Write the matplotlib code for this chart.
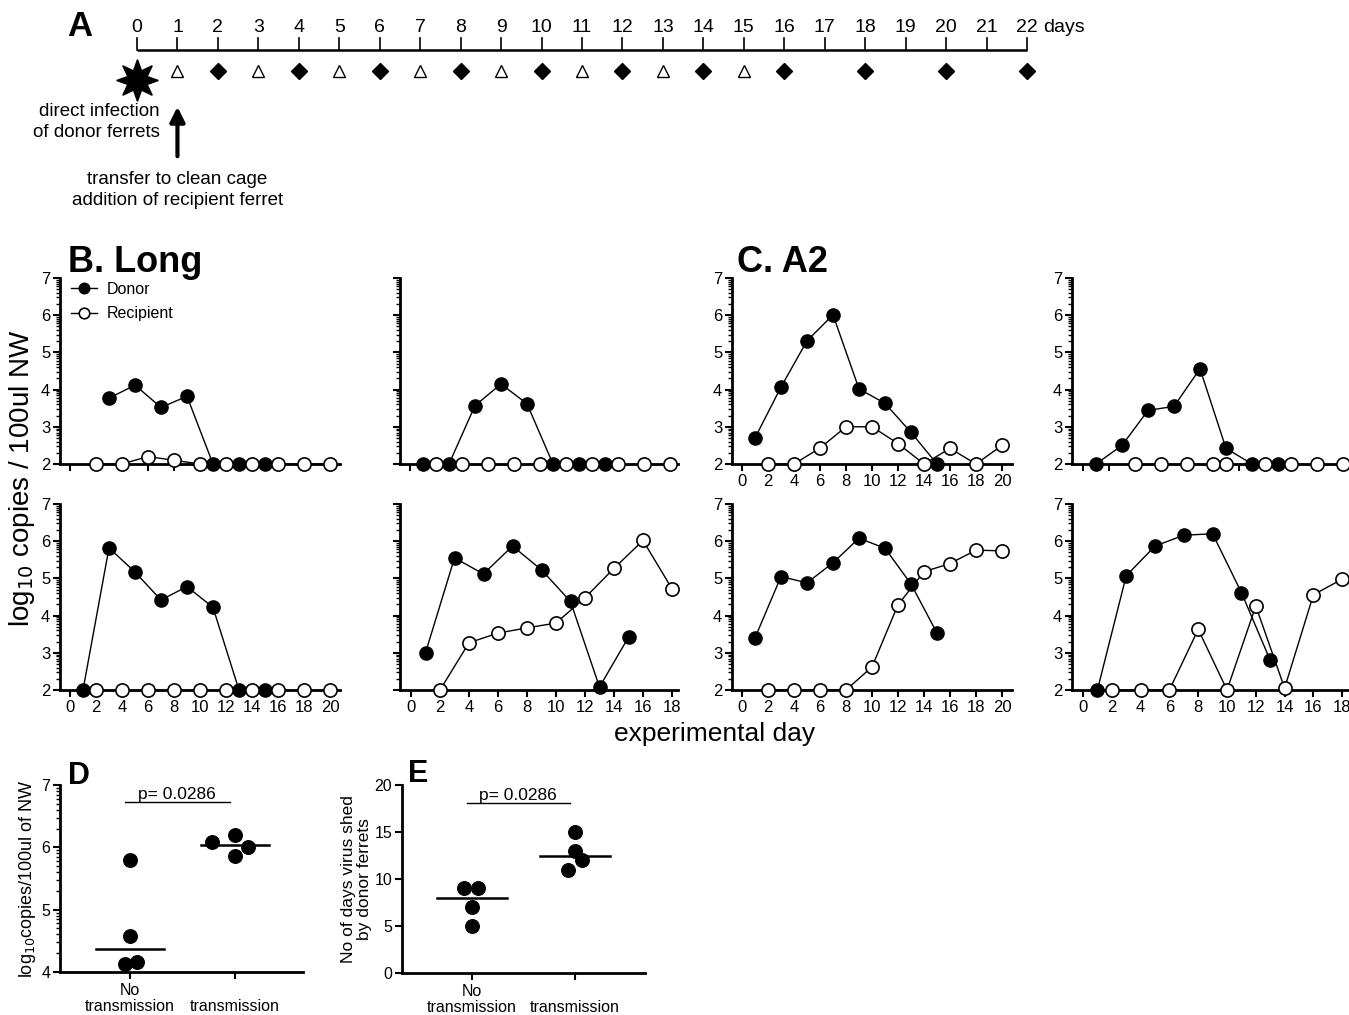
import numpy as np
import matplotlib
matplotlib.use("Agg")
import matplotlib.pyplot as plt

plt.rcParams['font.family'] = ['Liberation Sans', 'DejaVu Sans']
NARROW = ['Liberation Sans Narrow', 'Liberation Sans', 'DejaVu Sans']

# ---- data ----
timeline_days = list(range(0, 23))
recipient_sample_days = [1, 3, 5, 7, 9, 11, 13, 15]
donor_sample_days = [2, 4, 6, 8, 10, 12, 14, 16, 18, 20, 22]

# B. Long
b1_donor_days = [3, 5, 7, 9, 11, 13, 15]
b1_donor = [3.77, 4.12, 3.52, 3.82, 2, 2, 2]
b1_recip_days = [2, 4, 6, 8, 10, 12, 14, 16, 18, 20]
b1_recip = [2, 2, 2.2, 2.1, 2, 2, 2, 2, 2, 2]

b2_donor_days = [1, 3, 5, 7, 9, 11, 13, 15]
b2_donor = [2, 2, 3.57, 4.15, 3.62, 2, 2, 2]
b2_recip_days = [2, 4, 6, 8, 10, 12, 14, 16, 18, 20]
b2_recip = [2, 2, 2, 2, 2, 2, 2, 2, 2, 2]

b3_donor_days = [1, 3, 5, 7, 9, 11, 13, 15]
b3_donor = [2, 5.82, 5.17, 4.42, 4.78, 4.22, 2, 2]
b3_recip_days = [2, 4, 6, 8, 10, 12, 14, 16, 18, 20]
b3_recip = [2, 2, 2, 2, 2, 2, 2, 2, 2, 2]

b4_donor_days = [1, 3, 5, 7, 9, 11, 13, 15]
b4_donor = [3.0, 5.55, 5.12, 5.87, 5.23, 4.38, 2.08, 3.42]
b4_recip_days = [2, 4, 6, 8, 10, 12, 14, 16, 18]
b4_recip = [2, 3.27, 3.53, 3.67, 3.8, 4.48, 5.27, 6.02, 4.72]

# C. A2
c1_donor_days = [1, 3, 5, 7, 9, 11, 13, 15]
c1_donor = [2.7, 4.07, 5.31, 6.01, 4.02, 3.63, 2.85, 2.0]
c1_recip_days = [2, 4, 6, 8, 10, 12, 14, 16, 18, 20]
c1_recip = [2, 2, 2.43, 3.0, 3.0, 2.55, 2, 2.42, 2, 2.5]

c2_donor_days = [1, 3, 5, 7, 9, 11, 13, 15]
c2_donor = [2, 2.5, 3.44, 3.55, 4.56, 2.42, 2, 2]
c2_recip_days = [4, 6, 8, 10, 11, 14, 16, 18, 20]
c2_recip = [2, 2, 2, 2, 2, 2, 2, 2, 2]

c3_donor_days = [1, 3, 5, 7, 9, 11, 13, 15]
c3_donor = [3.4, 5.05, 4.88, 5.42, 6.08, 5.81, 4.85, 3.53]
c3_recip_days = [2, 4, 6, 8, 10, 12, 14, 16, 18, 20]
c3_recip = [2, 2, 2, 2, 2.62, 4.29, 5.18, 5.4, 5.76, 5.74]

c4_donor_days = [1, 3, 5, 7, 9, 11, 13]
c4_donor = [2, 5.07, 5.87, 6.16, 6.2, 4.62, 2.8]
c4_recip_days = [2, 4, 6, 8, 10, 12, 14, 16, 18]
c4_recip = [2, 2, 2, 3.63, 2, 4.26, 2.05, 4.56, 4.98]

# D / E
groups = ['No\ntransmission', 'transmission']
d_no = [5.8, 4.57, 4.13, 4.16]
d_no_jit = [0, 0, -0.05, 0.07]
d_yes = [6.09, 6.2, 6.0, 5.86]
d_yes_jit = [-0.22, 0, 0.12, 0]
e_no = [9, 9, 7, 5]
e_no_jit = [-0.08, 0.06, 0, 0]
e_yes = [15, 13, 11, 12]
e_yes_jit = [0, 0, -0.07, 0.07]
p_value = 'p= 0.0286'

W, H = 1349, 1015
fig = plt.figure(figsize=(W / 100, H / 100), dpi=100)


def fx(px):
    return px / W


def fy(py):
    return 1 - py / H


def add_px_axes(left, top, right, bottom):
    return fig.add_axes([left / W, 1 - bottom / H, (right - left) / W, (bottom - top) / H])


# ---- A: timeline ----
ax_t = add_px_axes(0, 0, W, 215)
pxday = (1027 - 137) / 22
ax_t.set_xlim(-137 / pxday, (W - 137) / pxday)
ax_t.set_ylim(215, 0)
ax_t.axis('off')
ax_t.plot([timeline_days[0], timeline_days[-1]], [50, 50], color='black', lw=1.8, solid_capstyle='butt')
for d in timeline_days:
    ax_t.plot([d, d], [38, 50], color='black', lw=1.2)
    ax_t.text(d, 28, str(d), ha='center', va='center', fontsize=14, family=NARROW)
ax_t.text(22 + 16 / pxday, 28, 'days', ha='left', va='center', fontsize=14, family=NARROW)
ax_t.plot(recipient_sample_days, [71] * len(recipient_sample_days), ls='none', marker='^',
          ms=8, mfc='white', mec='black', mew=1.0)
ax_t.plot(donor_sample_days, [71] * len(donor_sample_days), ls='none', marker='D',
          ms=8, mfc='black', mec='black')
ax_t.plot([0], [80], marker=(8, 1, 0), ms=30, color='black')
ax_t.annotate('', xy=(1, 104), xytext=(1, 159),
              arrowprops=dict(arrowstyle='-|>', lw=3, color='black', mutation_scale=22))
ax_t.text((160 - 137) / pxday, 122, 'direct infection\nof donor ferrets', ha='right', va='center',
          multialignment='right', fontsize=13.5, family=NARROW, linespacing=1.25)
ax_t.text(1, 190, 'transfer to clean cage\naddition of recipient ferret', ha='center', va='center',
          fontsize=13.5, family=NARROW, linespacing=1.25)
fig.text(fx(80), fy(27), 'A', ha='center', va='center', fontsize=25, fontweight='bold')

# ---- B / C panels ----
minor_y = [n + np.log10(k) for n in range(2, 7) for k in range(2, 10)]


def panel(left, top, right, bottom, x0px, pxd, xmax, xlabels, ylabels,
          ddays, dvals, rdays, rvals):
    ax = add_px_axes(left, top, right, bottom)
    ax.set_xlim((left - x0px) / pxd, (right - x0px) / pxd)
    ax.set_ylim(2, 7)
    for s in ['top', 'right']:
        ax.spines[s].set_visible(False)
    for s in ['left', 'bottom']:
        ax.spines[s].set_linewidth(2)
    ax.set_xticks(range(0, xmax + 1, 2))
    ax.set_yticks(range(2, 8))
    ax.set_yticks(minor_y, minor=True)
    ax.tick_params(axis='both', which='major', length=5, width=1.5, labelsize=12, pad=2)
    ax.tick_params(axis='y', which='minor', length=3, width=1)
    if not xlabels:
        ax.set_xticklabels([])
    if not ylabels:
        ax.set_yticklabels([])
    ld, = ax.plot(ddays, dvals, color='black', lw=1, marker='o', ms=9.5,
                  mfc='black', mec='black', clip_on=False, zorder=3)
    lr, = ax.plot(rdays, rvals, color='black', lw=1, marker='o', ms=9.5,
                  mfc='white', mec='black', mew=1.2, clip_on=False, zorder=4)
    return ax, ld, lr


ax, ld, lr = panel(60, 278, 340, 464, 70, 13, 20, False, True,
                   b1_donor_days, b1_donor, b1_recip_days, b1_recip)
ax.legend([ld, lr], ['Donor', 'Recipient'], loc='upper left', bbox_to_anchor=(0.0, 1.04),
          frameon=False, fontsize=11.5, handlelength=1.6, handletextpad=0.6,
          labelspacing=0.6, markerscale=0.8, borderaxespad=0.3)
panel(400, 278, 678, 464, 410, 13, 20, False, False,
      b2_donor_days, b2_donor, b2_recip_days, b2_recip)
panel(60, 504, 340, 690, 70, 13, 20, True, True,
      b3_donor_days, b3_donor, b3_recip_days, b3_recip)
panel(400, 504, 678, 690, 411, 14.5, 18, True, False,
      b4_donor_days, b4_donor, b4_recip_days, b4_recip)
panel(732, 278, 1012, 464, 742, 13, 20, True, True,
      c1_donor_days, c1_donor, c1_recip_days, c1_recip)
panel(1072, 278, W, 464, 1083, 13, 20, False, True,
      c2_donor_days, c2_donor, c2_recip_days, c2_recip)
panel(732, 504, 1012, 690, 742, 13, 20, True, True,
      c3_donor_days, c3_donor, c3_recip_days, c3_recip)
panel(1072, 504, W, 690, 1083, 14.4, 18, True, True,
      c4_donor_days, c4_donor, c4_recip_days, c4_recip)

fig.text(fx(68), fy(262), 'B. Long', ha='left', va='center', fontsize=26, fontweight='bold')
fig.text(fx(737), fy(262), 'C. A2', ha='left', va='center', fontsize=26, fontweight='bold')
fig.text(fx(22), fy(478), r'log$_{10}$ copies / 100ul NW', rotation=90, ha='center', va='center', fontsize=20)
fig.text(fx(715), fy(734), 'experimental day', ha='center', va='center', fontsize=19)


# ---- D / E ----
def dot_panel(left, top, right, bottom, c0, c1, ylim, no_vals, no_jit, yes_vals, yes_jit,
              half, bar_y):
    ax = add_px_axes(left, top, right, bottom)
    pxu = c1 - c0
    ax.set_xlim((left - c0) / pxu, (right - c0) / pxu)
    ax.set_ylim(*ylim)
    for s in ['top', 'right']:
        ax.spines[s].set_visible(False)
    for s in ['left', 'bottom']:
        ax.spines[s].set_linewidth(2)
    ax.set_xticks([0, 1])
    ax.set_xticklabels([])
    for i, name in enumerate(groups):
        ax.annotate(name, xy=(i, 0), xycoords=('data', 'axes fraction'), xytext=(0, -42),
                    textcoords='offset pixels', ha='center', va='bottom', fontsize=11.5,
                    linespacing=1.05)
    ax.tick_params(axis='both', which='major', length=5, width=1.5, labelsize=11.5, pad=2)
    ax.scatter(np.array(no_jit), no_vals, s=95, color='black', zorder=3, clip_on=False)
    ax.scatter(1 + np.array(yes_jit), yes_vals, s=95, color='black', zorder=3, clip_on=False)
    ax.plot([-half, half], [np.median(no_vals)] * 2, color='black', lw=1.8)
    ax.plot([1 - half, 1 + half], [np.median(yes_vals)] * 2, color='black', lw=1.8)
    ax.plot([-0.05, 0.95], [bar_y, bar_y], color='black', lw=1)
    ax.text(0.45, bar_y, p_value, ha='center', va='bottom', fontsize=12.5)
    return ax


axd = dot_panel(60, 785, 303, 972, 130, 235, (4, 7), d_no, d_no_jit, d_yes, d_yes_jit, 0.32, 6.73)
axd.set_yticks([4, 5, 6, 7])
axd.set_yticks([n + np.log10(k) for n in range(4, 7) for k in range(2, 10)], minor=True)
axd.tick_params(axis='y', which='minor', length=3, width=1)
axd.set_ylabel(r'log$_{10}$copies/100ul of NW', fontsize=13, labelpad=2)

axe = dot_panel(402, 785, 645, 973, 472, 575, (0, 20), e_no, e_no_jit, e_yes, e_yes_jit, 0.34, 18.1)
axe.set_yticks([0, 5, 10, 15, 20])
axe.set_ylabel('No of days virus shed\nby donor ferrets', fontsize=12.5, labelpad=2, linespacing=1.1)

fig.text(fx(79), fy(776), 'D', ha='center', va='center', fontsize=22, fontweight='bold')
fig.text(fx(418), fy(774), 'E', ha='center', va='center', fontsize=22, fontweight='bold')

fig.savefig('out.png', dpi=100)
